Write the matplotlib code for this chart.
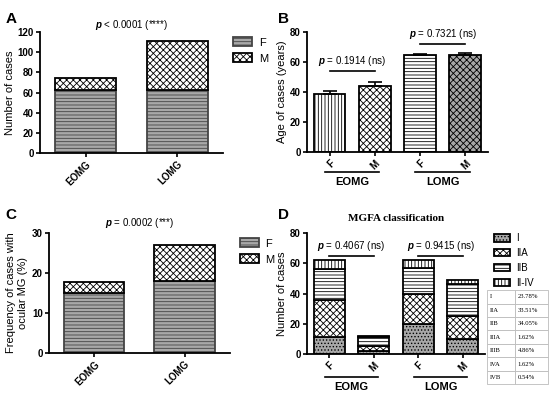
import matplotlib
matplotlib.use("Agg")
import matplotlib.pyplot as plt
import numpy as np

plt.rcParams['font.family'] = 'Liberation Sans'
plt.rcParams['font.weight'] = 'bold'
plt.rcParams['hatch.linewidth'] = 0.6
plt.rcParams['mathtext.fontset'] = 'custom'
plt.rcParams['mathtext.it'] = 'Liberation Sans:italic'
plt.rcParams['mathtext.rm'] = 'Liberation Sans'

# data
groups = ['EOMG', 'LOMG']
a_female = [62, 62]
a_male = [12, 49]

b_labels = ['F', 'M', 'F', 'M']
b_age = [39, 44, 64.5, 65]
b_err = [1.5, 3, 1, 1]

c_female = [15, 18]
c_male = [2.7, 9]

d_labels = ['F', 'M', 'F', 'M']
d_classes = ['I', 'IIA', 'IIB', 'II-IV']
d_I = [11, 2, 20, 10]
d_IIA = [25, 3, 20, 15]
d_IIB = [20, 6, 17, 21]
d_IIIV = [6, 1, 5, 3]

tbl_class = ['I', 'IIA', 'IIB', 'IIIA', 'IIIB', 'IVA', 'IVB']
tbl_pct = ['23.78%', '33.51%', '34.05%', '1.62%', '4.86%', '1.62%', '0.54%']

fig = plt.figure(figsize=(5.5, 3.96), dpi=100)

def style(ax):
    for s in ['top', 'right']:
        ax.spines[s].set_visible(False)
    for s in ['left', 'bottom']:
        ax.spines[s].set_linewidth(1.3)
    ax.tick_params(width=1.2, length=3, labelsize=7, pad=1.5)

F_kw = dict(facecolor='#a8a8a8', hatch='-----', edgecolor='#444444', linewidth=1.3)
M_kw = dict(facecolor='white', hatch='xxxxx', edgecolor='black', linewidth=1.3)
leg_kw = dict(loc='upper left', frameon=False, handlelength=1.7, handleheight=0.9,
              handletextpad=0.6)

# ---- A ----
axA = fig.add_axes([0.0727, 0.6136, 0.333, 0.3056])
x = np.arange(len(groups))
axA.bar(x, a_female, 0.67, label='F', **F_kw)
axA.bar(x, a_male, 0.67, bottom=a_female, label='M', **M_kw)
axA.set_xlim(-0.5, 1.5)
axA.set_ylim(0, 120)
axA.set_yticks(range(0, 121, 20))
axA.set_xticks(x)
axA.set_xticklabels(groups, rotation=45, ha='right', rotation_mode='anchor')
axA.set_ylabel('Number of cases', fontsize=8, labelpad=2)
axA.set_title(r'$\it{p}$ < 0.0001 (****)', fontsize=7, fontweight='normal', pad=3)
axA.legend(bbox_to_anchor=(1.0, 1.04), prop={'weight': 'normal', 'size': 8}, **leg_kw)
style(axA)

# ---- B ----
axB = fig.add_axes([0.558, 0.616, 0.329, 0.303])
xb = np.arange(len(b_labels))
hatches_b = ['|||||', 'xxxxx', '-----', 'xxxxx']
faces_b = ['white', 'white', 'white', '#a8a8a8']
for i in range(len(xb)):
    axB.bar(xb[i], b_age[i], 0.7, facecolor=faces_b[i], hatch=hatches_b[i],
            edgecolor='black', linewidth=1.3)
axB.errorbar(xb, b_age, yerr=[np.zeros(4), b_err], fmt='none', ecolor='black',
             capsize=5, elinewidth=1.2, capthick=1.2)
axB.set_xlim(-0.5, 3.5)
axB.set_ylim(0, 80)
axB.set_yticks(range(0, 81, 20))
axB.set_xticks(xb)
axB.set_xticklabels(b_labels, rotation=45, ha='right', rotation_mode='anchor')
axB.set_ylabel('Age of cases (years)', fontsize=8, labelpad=2)
axB.plot([0, 1], [54, 54], color='black', lw=1.2)
axB.text(0.5, 56, r'$\it{p}$ = 0.1914 (ns)', ha='center', va='bottom', fontsize=7, fontweight='normal')
axB.plot([2, 3], [72, 72], color='black', lw=1.2)
axB.text(2.5, 74, r'$\it{p}$ = 0.7321 (ns)', ha='center', va='bottom', fontsize=7, fontweight='normal')
style(axB)
for g, cx in zip(groups, [0.5, 2.5]):
    axB.plot([cx - 0.6, cx + 0.6], [-0.17, -0.17], transform=axB.get_xaxis_transform(),
             color='black', lw=1.2, clip_on=False)
    axB.text(cx, -0.21, g, transform=axB.get_xaxis_transform(), ha='center', va='top', fontsize=8)

# ---- C ----
axC = fig.add_axes([0.089, 0.1086, 0.329, 0.303])
axC.bar(x, c_female, 0.67, label='F', **F_kw)
axC.bar(x, c_male, 0.67, bottom=c_female, label='M', **M_kw)
axC.set_xlim(-0.5, 1.5)
axC.set_ylim(0, 30)
axC.set_yticks(range(0, 31, 10))
axC.set_xticks(x)
axC.set_xticklabels(groups, rotation=45, ha='right', rotation_mode='anchor')
axC.set_ylabel('Frequency of cases with\nocular MG (%)', fontsize=8, labelpad=3)
axC.set_title(r'$\it{p}$ = 0.0002 (***)', fontsize=7, fontweight='normal', pad=5)
axC.legend(bbox_to_anchor=(1.0, 1.04), prop={'weight': 'normal', 'size': 8}, **leg_kw)
style(axC)

# ---- D ----
axD = fig.add_axes([0.558, 0.106, 0.324, 0.3056])
xd = np.arange(len(d_labels))
layers = [d_I, d_IIA, d_IIB, d_IIIV]
hatches_d = ['.....', 'xxxxx', '-----', '|||||']
faces_d = ['#a8a8a8', 'white', 'white', 'white']
bottom = np.zeros(4)
for cls, vals, h, fc in zip(d_classes, layers, hatches_d, faces_d):
    axD.bar(xd, vals, 0.7, bottom=bottom, facecolor=fc, hatch=h, edgecolor='black',
            linewidth=1.3, label=cls)
    bottom += np.array(vals)
axD.set_xlim(-0.5, 3.5)
axD.set_ylim(0, 80)
axD.set_yticks(range(0, 81, 20))
axD.set_xticks(xd)
axD.set_xticklabels(d_labels, rotation=45, ha='right', rotation_mode='anchor')
axD.set_ylabel('Number of cases', fontsize=8, labelpad=2)
axD.set_title('MGFA classification', fontsize=8, fontfamily='Liberation Serif',
              fontweight='bold', pad=9)
axD.plot([0, 1], [65, 65], color='black', lw=1.2)
axD.text(0.5, 67, r'$\it{p}$ = 0.4067 (ns)', ha='center', va='bottom', fontsize=7, fontweight='normal')
axD.plot([2, 3], [65, 65], color='black', lw=1.2)
axD.text(2.5, 67, r'$\it{p}$ = 0.9415 (ns)', ha='center', va='bottom', fontsize=7, fontweight='normal')
axD.legend(bbox_to_anchor=(1.0, 1.07), labelspacing=0.5,
           loc='upper left', frameon=False, handlelength=1.7, handleheight=0.8,
           handletextpad=0.6, prop={'weight': 'normal', 'size': 7})
style(axD)
for g, cx in zip(groups, [0.5, 2.5]):
    axD.plot([cx - 0.6, cx + 0.6], [-0.19, -0.19], transform=axD.get_xaxis_transform(),
             color='black', lw=1.2, clip_on=False)
    axD.text(cx, -0.23, g, transform=axD.get_xaxis_transform(), ha='center', va='top', fontsize=8)

# table
axT = fig.add_axes([0.886, 0.03, 0.111, 0.237])
axT.axis('off')
tb = axT.table(cellText=[[c, p] for c, p in zip(tbl_class, tbl_pct)], bbox=[0, 0, 1, 1],
               cellLoc='left', colWidths=[0.45, 0.55])
tb.auto_set_font_size(False)
for (r, c), cell in tb.get_celld().items():
    cell.set_edgecolor('#bbbbbb')
    cell.set_linewidth(0.6)
    cell.get_text().set_fontsize(4.8)
    cell.get_text().set_fontfamily('Liberation Serif')
    cell.get_text().set_fontweight('normal')
    cell.PAD = 0.08

for lab, (px, py) in zip('ABCD', [(0.01, 0.97), (0.505, 0.97), (0.01, 0.475), (0.505, 0.475)]):
    fig.text(px, py, lab, fontsize=11, fontweight='bold', va='top')

fig.savefig('out.png', dpi=100)
